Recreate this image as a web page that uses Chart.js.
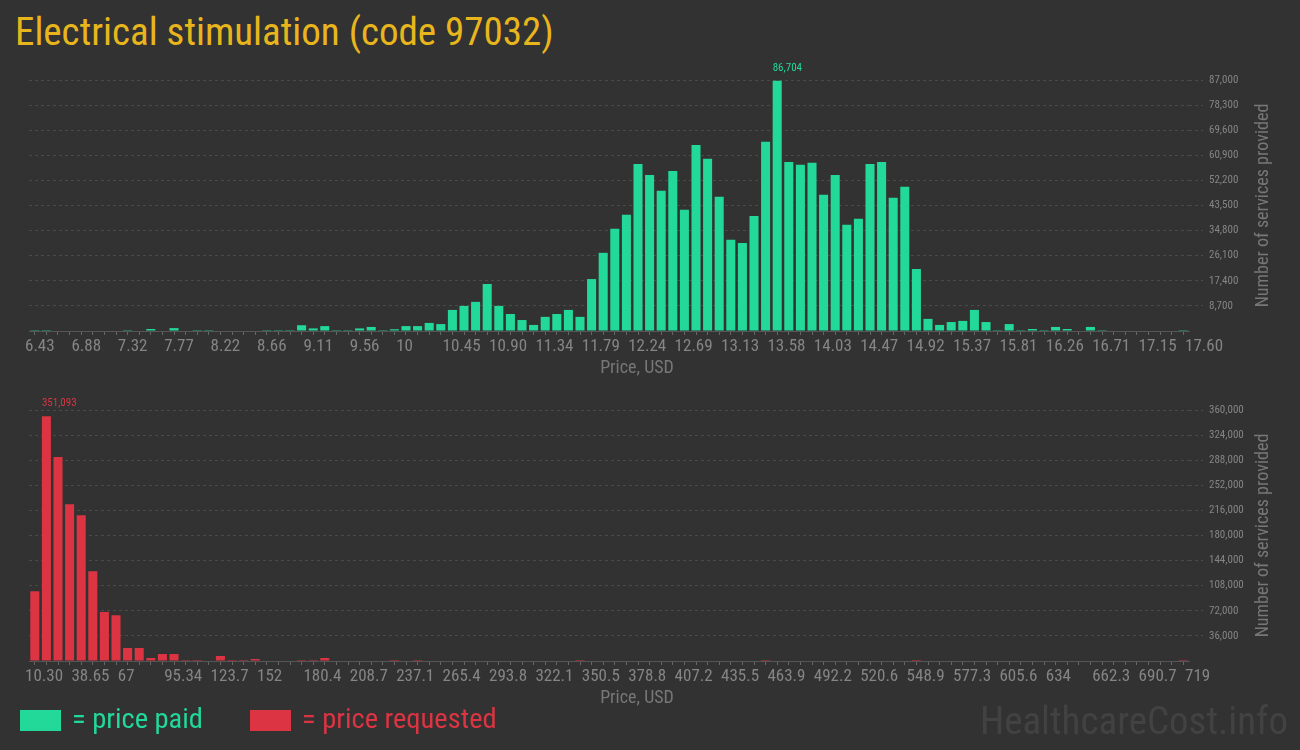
<!DOCTYPE html>
<html>
<head>
<meta charset="utf-8">
<script src="https://cdn.jsdelivr.net/npm/chart.js@4.4.1/dist/chart.umd.min.js"></script>
<style>
  html, body { margin: 0; padding: 0; }
  body { width: 1300px; height: 750px; overflow: hidden; position: relative; background: #323232; font-family: "Roboto Condensed", "Liberation Sans Narrow", Roboto, sans-serif; }
  canvas { position: absolute; left: 0; }
  .txt { position: absolute; line-height: 1; white-space: nowrap; }
  #title { left: 15px; top: 13px; font-size: 39px; color: #e8b61c; }
  .swatch { position: absolute; top: 710px; width: 41px; height: 21px; }
  .leg { top: 705px; font-size: 28.5px; }
  #mark { right: 12px; top: 702px; font-size: 39px; color: #424242; }
</style>
</head>
<body>
<div id="title" class="txt">Electrical stimulation (code 97032)</div>
<canvas id="paidChart" width="1300" height="380" style="top:0"></canvas>
<canvas id="requestedChart" width="1300" height="330" style="top:380px"></canvas>
<div class="swatch" style="left:20px;background:#22d99a"></div>
<div class="txt leg" style="left:72px;color:#22d99a">= price paid</div>
<div class="swatch" style="left:250px;background:#dc3442"></div>
<div class="txt leg" style="left:302px;color:#dc3442">= price requested</div>
<div id="mark" class="txt">HealthcareCost.info</div>
<script>
const NARROW = '"Roboto Condensed", "Liberation Sans Narrow", "DejaVu Sans Condensed", sans-serif';
const GREEN = '#22d99a';
const RED = '#dc3442';

// price paid histogram: 100 bins between 6.43 and 17.60 USD
const paidRange = [6.43, 17.60];
const paidTickLabels = ['6.43', '6.88', '7.32', '7.77', '8.22', '8.66', '9.11', '9.56', '10', '10.45',
  '10.90', '11.34', '11.79', '12.24', '12.69', '13.13', '13.58', '14.03', '14.47', '14.92',
  '15.37', '15.81', '16.26', '16.71', '17.15', '17.60'];
const paidCounts = [
  300, 300, 0, 0, 0, 0, 0, 0, 300, 0,
  700, 0, 1000, 0, 300, 300, 0, 0, 0, 0,
  300, 300, 300, 2000, 900, 1700, 300, 300, 900, 1400,
  300, 600, 1700, 1700, 2800, 2400, 7300, 8700, 10100, 16300,
  8700, 5900, 3800, 2100, 4900, 5900, 7300, 4900, 18000, 27100,
  35400, 40300, 57900, 54100, 48600, 55500, 42000, 64500, 59700, 46500,
  31600, 30500, 39900, 65600, 86704, 58600, 57600, 58300, 47200, 54100,
  36800, 38900, 57900, 58600, 46200, 50000, 21500, 4200, 2100, 3100,
  3500, 7300, 3100, 300, 2400, 300, 700, 300, 1400, 700,
  0, 1400, 300, 0, 0, 0, 0, 0, 0, 300
];
const paidYMax = 87000;
const paidYStep = 8700;

// price requested histogram: 100 bins between 10.30 and 719 USD
const requestedRange = [10.30, 719];
const requestedTickLabels = ['10.30', '38.65', '67', '95.34', '123.7', '152', '180.4', '208.7', '237.1', '265.4',
  '293.8', '322.1', '350.5', '378.8', '407.2', '435.5', '463.9', '492.2', '520.6', '548.9',
  '577.3', '605.6', '634', '662.3', '690.7', '719'];
const requestedCounts = [
  100000, 351093, 292500, 225000, 209200, 128800, 70400, 65600, 18700, 18700,
  4300, 10000, 10000, 1400, 1400, 0, 7200, 1400, 1400, 2900,
  0, 0, 0, 1400, 1400, 4300, 0, 0, 0, 0,
  0, 1400, 0, 1400, 0, 0, 0, 0, 0, 0,
  0, 0, 0, 0, 0, 0, 0, 1400, 0, 0,
  0, 0, 0, 0, 0, 0, 0, 0, 0, 0,
  0, 0, 0, 1400, 0, 0, 0, 0, 0, 0,
  0, 0, 0, 0, 0, 0, 1400, 0, 0, 0,
  0, 0, 0, 0, 0, 0, 0, 0, 0, 0,
  0, 0, 0, 0, 0, 0, 0, 0, 0, 1400
];
const requestedYMax = 360000;
const requestedYStep = 36000;

const xTitle = 'Price, USD';
const yTitle = 'Number of services provided';

// draws the axis titles and the label over the tallest bar
const decorations = {
  id: 'decorations',
  afterDraw(chart) {
    const { ctx, chartArea } = chart;
    const color = chart.data.datasets[0].backgroundColor;
    ctx.save();
    ctx.fillStyle = '#777';
    ctx.font = '18px ' + NARROW;
    ctx.textAlign = 'center';
    ctx.textBaseline = 'middle';
    ctx.fillText(xTitle, 637, chartArea.bottom + 37);
    ctx.translate(1263, (chartArea.top + chartArea.bottom) / 2);
    ctx.rotate(-Math.PI / 2);
    ctx.fillText(yTitle, 0, 0);
    ctx.restore();

    const values = chart.data.datasets[0].data.map(d => d.y);
    const peak = values.indexOf(Math.max(...values));
    const bar = chart.getDatasetMeta(0).data[peak];
    ctx.save();
    ctx.fillStyle = color;
    ctx.font = '11px ' + NARROW;
    ctx.textAlign = 'left';
    ctx.textBaseline = 'bottom';
    ctx.fillText(values[peak].toLocaleString('en-US'), bar.x - bar.width / 2, bar.y - 7);
    ctx.restore();
  }
};

function histogram(canvasId, range, tickLabels, counts, yMax, yStep, color, padTop) {
  const bins = counts.length;
  const width = (range[1] - range[0]) / bins;
  const points = counts.map((c, i) => ({ x: range[0] + (i + 0.5) * width, y: c }));
  const perLabel = bins / (tickLabels.length - 1);

  return new Chart(document.getElementById(canvasId), {
    type: 'bar',
    data: {
      datasets: [{
        data: points,
        backgroundColor: color,
        barPercentage: 0.78,
        categoryPercentage: 1.0
      }]
    },
    options: {
      responsive: false,
      animation: false,
      devicePixelRatio: 1,
      layout: { padding: { top: padTop, left: 29, right: 0, bottom: 0 } },
      plugins: { legend: { display: false }, tooltip: { enabled: false } },
      scales: {
        x: {
          type: 'linear',
          min: range[0],
          max: range[1],
          offset: false,
          afterBuildTicks: scale => {
            const ticks = [];
            for (let i = 0; i <= bins; i++) ticks.push({ value: range[0] + i * width });
            scale.ticks = ticks;
          },
          afterFit: scale => { scale.height = 49; },
          grid: { drawOnChartArea: false, tickLength: 4, tickColor: '#666' },
          border: { color: '#555' },
          ticks: {
            autoSkip: false,
            maxRotation: 0,
            align: 'start',
            labelOffset: -4,
            padding: 2,
            color: '#858585',
            font: { family: NARROW, size: 17 },
            callback: (v, i) => (i % perLabel === 0 ? tickLabels[i / perLabel] : '')
          }
        },
        y: {
          position: 'right',
          min: 0,
          max: yMax,
          afterFit: scale => { scale.width = 111; },
          grid: {
            color: c => (c.tick && c.tick.value === 0 ? 'rgba(0,0,0,0)' : '#4a4a4a'),
            tickColor: c => (c.tick && c.tick.value === 0 ? 'rgba(0,0,0,0)' : '#4a4a4a'),
            tickLength: 14,
            tickBorderDash: [3, 3]
          },
          border: { display: false, dash: [3, 3] },
          ticks: {
            stepSize: yStep,
            padding: 6,
            color: '#858585',
            font: { family: NARROW, size: 11 },
            callback: v => (v === 0 ? '' : v.toLocaleString('en-US'))
          }
        }
      }
    },
    plugins: [decorations]
  });
}

histogram('paidChart', paidRange, paidTickLabels, paidCounts, paidYMax, paidYStep, GREEN, 80);
histogram('requestedChart', requestedRange, requestedTickLabels, requestedCounts, requestedYMax, requestedYStep, RED, 30);
</script>
</body>
</html>
